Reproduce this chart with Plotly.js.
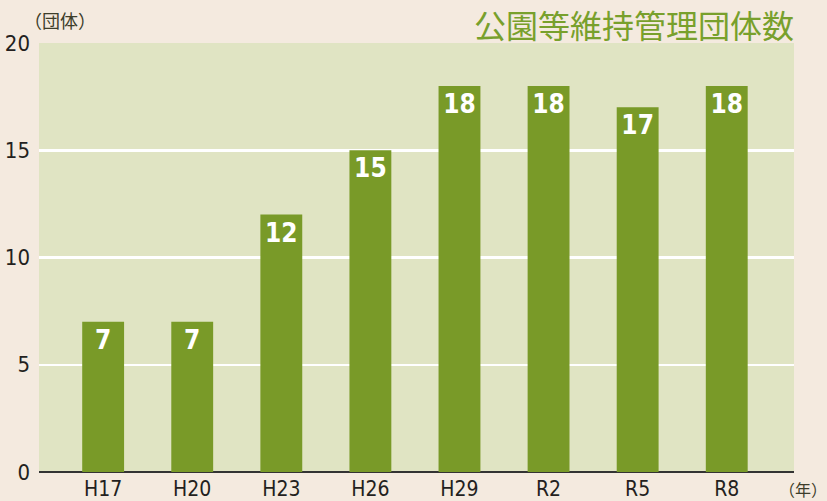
<!DOCTYPE html>
<html>
<head>
<meta charset="utf-8">
<script src="https://cdn.plot.ly/plotly-3.0.1.min.js"></script>
<style>
html,body{margin:0;padding:0;background:#f4eadf;}
#chart{width:827px;height:501px;}
</style>
</head>
<body>
<div id="chart"></div>
<script>
const categories = ["H17","H20","H23","H26","H29","R2","R5","R8"];
const counts = [7, 7, 12, 15, 18, 18, 17, 18];
const yTicks = [0, 5, 10, 15, 20];
const chartTitle = "公園等維持管理団体数";
const yUnit = "（団体）";
const xUnit = "（年）";

const condensed = "'DejaVu Sans Condensed', 'DejaVu Sans', Roboto, sans-serif";

const trace = {
  type: "bar",
  x: categories,
  y: counts,
  width: 0.47,
  marker: {color: "#799a28", line: {width: 0}},
  text: counts.map(String),
  textposition: "inside",
  insidetextanchor: "end",
  textangle: 0,
  constraintext: "none",
  textfont: {family: condensed, size: 26, color: "#ffffff", weight: "bold"},
  hoverinfo: "none",
  cliponaxis: false
};

const layout = {
  width: 827,
  height: 501,
  margin: {l: 39, r: 33, t: 43, b: 29, pad: 0},
  paper_bgcolor: "#f4eadf",
  plot_bgcolor: "#e0e4c3",
  showlegend: false,
  bargap: 0.53,
  xaxis: {
    type: "category",
    range: [-0.72, 7.755],
    showgrid: false,
    zeroline: false,
    showline: false,
    ticks: "",
    ticklabelstandoff: 2,
    tickfont: {family: condensed, size: 21, color: "#231f20"},
    fixedrange: true
  },
  yaxis: {
    range: [0, 20],
    tickvals: yTicks,
    ticktext: yTicks.map(String),
    showgrid: true,
    gridcolor: "#ffffff",
    gridwidth: 2.5,
    zeroline: true,
    zerolinecolor: "#333333",
    zerolinewidth: 2,
    showline: false,
    ticks: "",
    ticklabelstandoff: 8,
    tickfont: {family: condensed, size: 22, color: "#231f20"},
    fixedrange: true
  },
  annotations: [
    {text: chartTitle, xref: "paper", yref: "paper", x: 1.0, xshift: 1, y: 1, yshift: 43,
     xanchor: "right", yanchor: "top", borderpad: 0, showarrow: false,
     font: {family: "Noto Sans CJK JP", size: 32, color: "#78a02c"}},
    {text: yUnit, xref: "paper", yref: "paper", x: 0, xshift: 21, y: 1, yshift: 23,
     xanchor: "center", yanchor: "middle", showarrow: false,
     font: {family: "Noto Sans CJK JP", size: 18, color: "#3d3d2a"}},
    {text: xUnit, xref: "paper", yref: "paper", x: 1, xshift: 9, y: 0, yshift: -17,
     xanchor: "center", yanchor: "middle", showarrow: false,
     font: {family: "Noto Sans CJK JP", size: 16, color: "#3d3d2a"}}
  ]
};

Plotly.newPlot("chart", [trace], layout, {displayModeBar: false, staticPlot: true});
</script>
</body>
</html>
